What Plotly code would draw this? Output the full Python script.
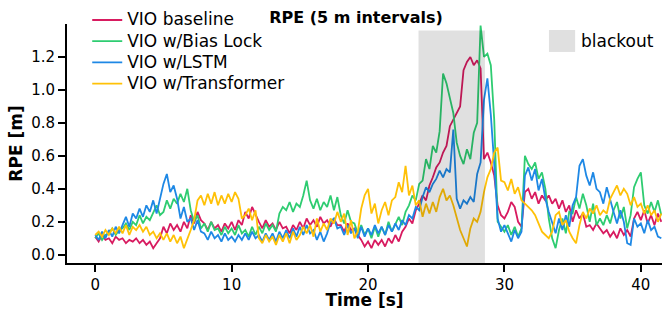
import numpy as np
import plotly.graph_objects as go

# sampling times [s] (0.25 s step)
time_s = np.arange(0, 167) * 0.25

vio_baseline = [
    0.11, 0.08, 0.12, 0.09, 0.10, 0.07, 0.11, 0.09, 0.10, 0.07, 0.09, 0.08,
    0.10, 0.07, 0.09, 0.06, 0.08, 0.04, 0.07, 0.10, 0.17, 0.13, 0.19, 0.15,
    0.18, 0.14, 0.20, 0.16, 0.24, 0.19, 0.26, 0.21, 0.19, 0.15, 0.20, 0.16,
    0.18, 0.14, 0.19, 0.16, 0.20, 0.15, 0.21, 0.18, 0.26, 0.22, 0.29, 0.24,
    0.20, 0.16, 0.21, 0.17, 0.19, 0.15, 0.20, 0.16, 0.17, 0.13, 0.18, 0.15,
    0.20, 0.16, 0.22, 0.18, 0.21, 0.17, 0.23, 0.19, 0.21, 0.17, 0.22, 0.18,
    0.18, 0.14, 0.19, 0.15, 0.16, 0.12, 0.09, 0.05, 0.08, 0.04, 0.09, 0.06,
    0.09, 0.05, 0.10, 0.07, 0.12, 0.08, 0.14, 0.17, 0.22, 0.19, 0.27, 0.31,
    0.36, 0.33, 0.42, 0.47, 0.53, 0.56, 0.62, 0.66, 0.78, 0.82, 0.86, 0.90,
    1.12, 1.17, 1.20, 1.15, 1.18, 1.13, 0.58, 0.62, 0.56, 0.48, 0.30, 0.24,
    0.22, 0.26, 0.32, 0.29, 0.20, 0.17, 0.38, 0.40, 0.34, 0.38, 0.31, 0.36,
    0.33, 0.36, 0.31, 0.34, 0.28, 0.33, 0.26, 0.30, 0.20, 0.27, 0.22, 0.25,
    0.17, 0.18, 0.15, 0.19, 0.16, 0.13, 0.15, 0.11, 0.14, 0.10, 0.16, 0.12,
    0.15, 0.11, 0.22, 0.26, 0.21, 0.27, 0.19, 0.24, 0.18, 0.25, 0.20,
]

vio_bias_lock = [
    0.10, 0.13, 0.09, 0.12, 0.13, 0.16, 0.12, 0.15, 0.16, 0.19, 0.15, 0.20,
    0.18, 0.24, 0.19, 0.23, 0.21, 0.26, 0.30, 0.24, 0.26, 0.33, 0.28, 0.34,
    0.31, 0.37, 0.32, 0.40, 0.27, 0.20, 0.24, 0.16, 0.19, 0.14, 0.20, 0.15,
    0.16, 0.12, 0.17, 0.13, 0.16, 0.12, 0.18, 0.13, 0.15, 0.11, 0.17, 0.12,
    0.17, 0.13, 0.19, 0.15, 0.18, 0.14, 0.25, 0.29, 0.27, 0.32, 0.26, 0.31,
    0.29, 0.36, 0.45, 0.33, 0.28, 0.34, 0.27, 0.32, 0.29, 0.36, 0.27, 0.35,
    0.24, 0.19, 0.27, 0.20, 0.19, 0.13, 0.18, 0.12, 0.16, 0.10, 0.17, 0.11,
    0.17, 0.12, 0.20, 0.14, 0.19, 0.23, 0.18, 0.26, 0.30, 0.36, 0.33, 0.43,
    0.45, 0.58, 0.52, 0.66, 0.62, 0.75, 1.10, 1.04, 0.95, 0.86, 0.68, 0.60,
    0.55, 0.64, 0.58, 0.74, 0.80, 1.39, 1.20, 1.22, 1.15, 0.82, 0.20, 0.17,
    0.14, 0.18, 0.12, 0.17, 0.11, 0.16, 0.60, 0.55, 0.52, 0.56, 0.46, 0.50,
    0.40, 0.22, 0.10, 0.04, 0.15, 0.22, 0.13, 0.26, 0.25, 0.35, 0.28, 0.37,
    0.30, 0.20, 0.31, 0.18, 0.22, 0.18, 0.24, 0.19, 0.27, 0.32, 0.22, 0.29,
    0.16, 0.24, 0.41, 0.46, 0.50, 0.30, 0.25, 0.32, 0.26, 0.33, 0.24,
]

vio_lstm = [
    0.12, 0.09, 0.14, 0.10, 0.15, 0.11, 0.17, 0.13, 0.18, 0.23, 0.17, 0.25,
    0.22, 0.28, 0.23, 0.30, 0.26, 0.33, 0.25, 0.34, 0.43, 0.49, 0.38, 0.42,
    0.34, 0.22, 0.29, 0.20, 0.22, 0.15, 0.21, 0.14, 0.13, 0.09, 0.14, 0.10,
    0.12, 0.08, 0.13, 0.09, 0.11, 0.08, 0.12, 0.09, 0.13, 0.09, 0.14, 0.10,
    0.12, 0.08, 0.13, 0.09, 0.13, 0.08, 0.14, 0.10, 0.15, 0.10, 0.16, 0.11,
    0.17, 0.12, 0.18, 0.13, 0.15, 0.09, 0.14, 0.08, 0.13, 0.20, 0.22, 0.16,
    0.17, 0.12, 0.18, 0.13, 0.16, 0.10, 0.17, 0.11, 0.16, 0.12, 0.18, 0.13,
    0.17, 0.12, 0.18, 0.14, 0.19, 0.15, 0.21, 0.18, 0.24, 0.22, 0.29, 0.27,
    0.35, 0.41, 0.38, 0.43, 0.46, 0.51, 0.47, 0.52, 0.50, 0.76, 0.34, 0.28,
    0.33, 0.31, 0.35, 0.32, 0.49, 0.56, 0.94, 1.07, 0.85, 0.55, 0.22, 0.14,
    0.18, 0.13, 0.08, 0.15, 0.10, 0.14, 0.48, 0.53, 0.45, 0.52, 0.39, 0.46,
    0.34, 0.26, 0.20, 0.13, 0.22, 0.15, 0.24, 0.17, 0.30, 0.35, 0.54, 0.58,
    0.48, 0.42, 0.50, 0.40, 0.38, 0.31, 0.41, 0.33, 0.26, 0.19, 0.27, 0.20,
    0.07, 0.06, 0.22, 0.17, 0.19, 0.13, 0.21, 0.15, 0.17, 0.11, 0.10,
]

vio_transformer = [
    0.12, 0.14, 0.11, 0.15, 0.12, 0.16, 0.13, 0.17, 0.13, 0.18, 0.12, 0.17,
    0.15, 0.18, 0.14, 0.17, 0.12, 0.14, 0.10, 0.13, 0.09, 0.13, 0.08, 0.12,
    0.07, 0.11, 0.04, 0.09, 0.15, 0.21, 0.33, 0.36, 0.30, 0.37, 0.31, 0.38,
    0.30, 0.36, 0.31, 0.37, 0.32, 0.38, 0.34, 0.22, 0.24, 0.28, 0.21, 0.27,
    0.10, 0.07, 0.12, 0.08, 0.11, 0.06, 0.12, 0.08, 0.13, 0.07, 0.14, 0.09,
    0.12, 0.17, 0.13, 0.18, 0.11, 0.22, 0.14, 0.19, 0.15, 0.22, 0.19, 0.26,
    0.20, 0.25, 0.12, 0.21, 0.10, 0.14, 0.28, 0.36, 0.40, 0.25, 0.31, 0.19,
    0.27, 0.32, 0.24, 0.33, 0.35, 0.44, 0.38, 0.54, 0.36, 0.42, 0.30, 0.33,
    0.23, 0.31, 0.25, 0.32, 0.26, 0.35, 0.40, 0.33, 0.36, 0.30, 0.22, 0.15,
    0.10, 0.05, 0.16, 0.22, 0.20, 0.26, 0.38, 0.47, 0.52, 0.62, 0.65, 0.45,
    0.44, 0.39, 0.46, 0.37, 0.41, 0.33, 0.31, 0.29, 0.27, 0.24, 0.19, 0.14,
    0.12, 0.10, 0.14, 0.24, 0.26, 0.18, 0.21, 0.14, 0.10, 0.07, 0.18, 0.26,
    0.22, 0.28, 0.25, 0.30, 0.24, 0.27, 0.25, 0.34, 0.38, 0.42, 0.36, 0.40,
    0.37, 0.30, 0.35, 0.29, 0.31, 0.25, 0.30, 0.24, 0.27, 0.20, 0.25,
]

series_names = ["VIO baseline", "VIO w/Bias Lock", "VIO w/LSTM", "VIO w/Transformer"]
series_values = [vio_baseline, vio_bias_lock, vio_lstm, vio_transformer]
series_colors = ["#D81B60", "#2ECC71", "#1E88E5", "#FFC107"]

blackout_start = 23.7
blackout_end = 28.57

x_ticks = [0, 10, 20, 30, 40]
y_ticks = [0.0, 0.2, 0.4, 0.6, 0.8, 1.0, 1.2]

FONT = "DejaVu Sans"

fig = go.Figure()
for name, vals, col in zip(series_names, series_values, series_colors):
    fig.add_trace(go.Scatter(
        x=time_s, y=vals, mode="lines",
        name=f'<span style="font-size:17px">{name}</span>',
        line=dict(color=col, width=1.8),
    ))

fig.add_shape(type="rect", xref="x", yref="y",
              x0=blackout_start, x1=blackout_end, y0=-0.05, y1=1.36,
              fillcolor="black", opacity=0.12, line=dict(width=0), layer="above")

# blackout legend entry
fig.add_shape(type="rect", xref="paper", yref="paper",
              x0=0.810, x1=0.854, y0=0.883, y1=0.975,
              fillcolor="#e0e0e0", line=dict(width=0))
fig.add_annotation(text="blackout", xref="paper", yref="paper",
                   x=0.860, y=0.929, xanchor="left", yanchor="middle",
                   showarrow=False, font=dict(family=FONT, size=17, color="black"))

fig.update_layout(
    width=664, height=310,
    margin=dict(l=67, r=2, t=24, b=47, autoexpand=False),
    paper_bgcolor="white", plot_bgcolor="white",
    font=dict(family=FONT, size=15, color="black"),
    title=dict(text="<b>RPE (5 m intervals)</b>", x=356 / 664, xref="container",
               y=1 - 17 / 310, yref="container", xanchor="center", yanchor="middle",
               font=dict(family=FONT, size=16)),
    showlegend=True,
    legend=dict(x=0.034, y=1.082, xanchor="left", yanchor="top",
                bgcolor="rgba(0,0,0,0)", font=dict(family=FONT, size=14),
                tracegroupgap=0, itemwidth=30),
)
fig.update_xaxes(
    range=[-2.07, 41.55], tickvals=x_ticks, ticktext=[str(v) for v in x_ticks],
    showline=True, linecolor="black", linewidth=2, showgrid=False, zeroline=False,
    ticks="outside", ticklen=7, tickwidth=2, tickcolor="black", automargin=False,
    title=dict(text="<b>Time [s]</b>", font=dict(family=FONT, size=17), standoff=5),
)
fig.update_yaxes(
    range=[-0.05, 1.40], tickvals=y_ticks, ticktext=[f"{v:.1f}" for v in y_ticks],
    showline=True, linecolor="black", linewidth=2, showgrid=False, zeroline=False,
    ticks="outside", ticklen=7, tickwidth=2, tickcolor="black", automargin=False,
    title=dict(text="<b>RPE [m]</b>", font=dict(family=FONT, size=17), standoff=4),
)

fig.write_html("out.html", config={"displayModeBar": False},
               post_script="document.body.style.margin='0';document.body.style.padding='0';")
